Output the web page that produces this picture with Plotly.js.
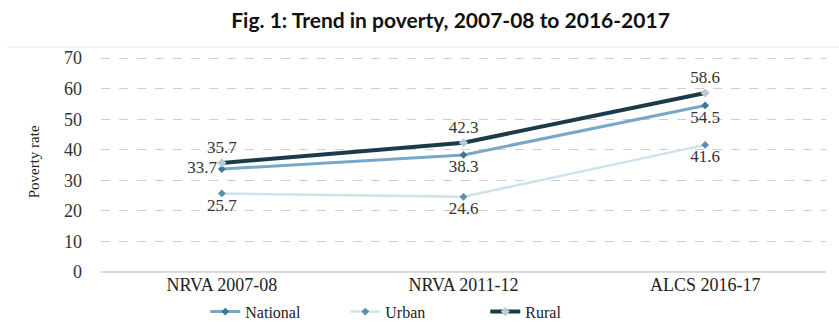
<!DOCTYPE html>
<html>
<head>
<meta charset="utf-8">
<script src="https://cdn.plot.ly/plotly-3.0.1.min.js"></script>
<style>html,body{margin:0;padding:0;background:#fff;}#chart{width:839px;height:323px;}</style>
</head>
<body>
<div id="chart"></div>
<script>
const categories = ["NRVA 2007-08", "NRVA 2011-12", "ALCS 2016-17"];
const national = [33.7, 38.3, 54.5];
const urban = [25.7, 24.6, 41.6];
const rural = [35.7, 42.3, 58.6];
const yTicks = [0, 10, 20, 30, 40, 50, 60, 70];

const SERIF = "Liberation Serif";
const labelFont = {family: SERIF, size: 17, color: "#333"};

const traces = [
  {
    name: "National", x: categories, y: national, type: "scatter", mode: "lines+markers+text",
    line: {color: "#77a8c7", width: 3},
    marker: {color: "#3f7597", size: 6, symbol: "diamond"},
    text: national.map(v => v.toFixed(1)),
    textposition: ["middle left", "bottom center", "bottom center"],
    textfont: labelFont, cliponaxis: false
  },
  {
    name: "Urban", x: categories, y: urban, type: "scatter", mode: "lines+markers+text",
    line: {color: "#cde2ed", width: 2.5},
    marker: {color: "#5b90b0", size: 6, symbol: "diamond"},
    text: urban.map(v => v.toFixed(1)),
    textposition: ["bottom center", "bottom center", "bottom center"],
    textfont: labelFont, cliponaxis: false
  },
  {
    name: "Rural", x: categories, y: rural, type: "scatter", mode: "lines+markers+text",
    line: {color: "#1d3a4b", width: 4},
    marker: {color: "#b9c9d5", size: 7, symbol: "diamond"},
    text: rural.map(v => v.toFixed(1)),
    textposition: ["top center", "top center", "top center"],
    textfont: labelFont, cliponaxis: false
  }
];

const layout = {
  width: 839, height: 323,
  margin: {l: 101, r: 13, t: 52, b: 51, autoexpand: false},
  paper_bgcolor: "#fff", plot_bgcolor: "#fff",
  font: {family: SERIF, size: 17, color: "#222"},
  title: {
    text: "<b>Fig. 1: Trend in poverty, 2007-08 to 2016-2017</b>",
    font: {family: "Lato", size: 21, color: "#111"},
    x: 0.537, xanchor: "center", y: 0.935, yanchor: "middle"
  },
  xaxis: {
    type: "category", range: [-0.5, 2.5], showgrid: false, zeroline: false,
    showline: false, ticks: "", automargin: false,
    tickfont: {family: SERIF, size: 18, color: "#222"},
    fixedrange: true
  },
  yaxis: {
    range: [0, 72], tickvals: yTicks, ticktext: yTicks.map(String),
    showgrid: true, gridcolor: "#cfcfcf", griddash: "dash", gridwidth: 1,
    zeroline: true, zerolinecolor: "#dcdcdc", zerolinewidth: 1.5,
    showline: false, ticks: "", ticklabelstandoff: 18, automargin: false,
    tickfont: {family: SERIF, size: 18, color: "#333"},
    fixedrange: true
  },
  showlegend: true,
  legend: {
    orientation: "h", xref: "container", yref: "container",
    x: 0.495, xanchor: "center", y: 0.035, yanchor: "middle",
    font: {family: SERIF, size: 16, color: "#222"},
    entrywidth: 95, entrywidthmode: "pixels",
    tracegroupgap: 0, traceorder: "normal", bgcolor: "rgba(0,0,0,0)"
  },
  annotations: [
    {
      text: "Poverty rate", xref: "paper", yref: "paper", x: -0.092, y: 0.5,
      xanchor: "center", yanchor: "middle", textangle: -90, showarrow: false,
      font: {family: SERIF, size: 15, color: "#222"}
    }
  ],
  shapes: [
    {type: "line", xref: "paper", yref: "paper", x0: -0.13, x1: 1.02, y0: 1.023, y1: 1.023,
     line: {color: "#e6e6e6", width: 1}}
  ]
};

Plotly.newPlot("chart", traces, layout, {displayModeBar: false, staticPlot: true});
</script>
</body>
</html>
